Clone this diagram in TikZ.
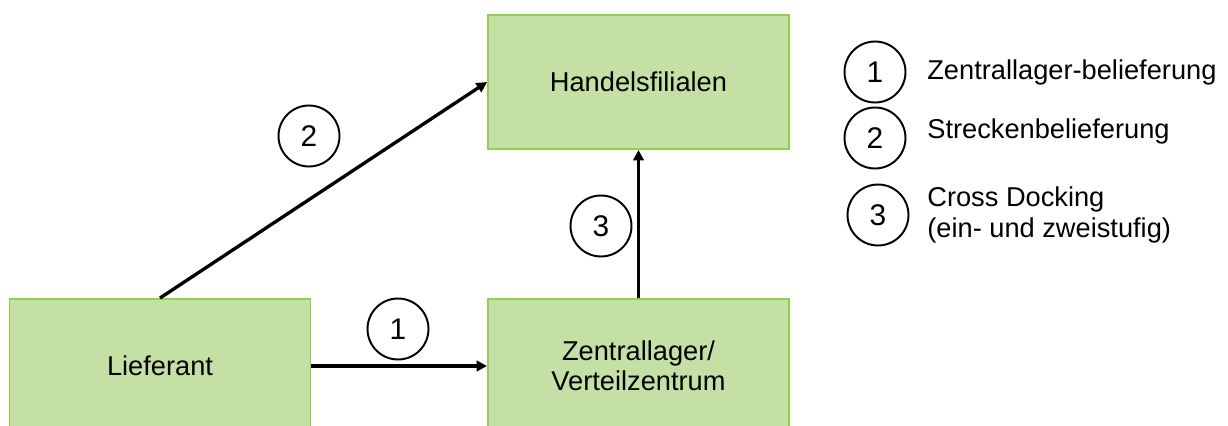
\documentclass[tikz,border=0pt]{standalone}
\usepackage{fontspec}
\setmainfont{Liberation Sans}
\usetikzlibrary{arrows.meta}
\definecolor{boxfill}{RGB}{197,224,165}
\definecolor{boxline}{RGB}{146,208,80}
\begin{document}
\begin{tikzpicture}[x=0.02cm,y=-0.02cm,
  every node/.style={font=\fontsize{15.3}{18}\selectfont},
  box/.style={draw=boxline,fill=boxfill,line width=1.1pt,minimum width=6.02cm,minimum height=2.68cm,inner sep=0pt,align=center,font=\fontsize{15.5}{17.2}\selectfont},
  num/.style={circle,draw=black,line width=1.1pt,minimum size=1.22cm,inner sep=0pt,font=\fontsize{17}{18}\selectfont},
  flow/.style={line width=1.9pt,-{Triangle[length=6pt,width=6pt]}},
  legend/.style={anchor=west,align=left,inner sep=0pt,font=\fontsize{15.5}{17.2}\selectfont}]
\useasboundingbox (0,0) rectangle (1228,426);
\clip (0,0) rectangle (1228,426);
\node[box] (H) at (638.5,82) {Handelsfilialen};
\node[box] (L) at (160,366) {Lieferant};
\node[box] (Z) at (638.5,366) {Zentrallager/\\Verteilzentrum};
\draw[flow] (L.east) -- (Z.west);
\draw[flow] (L.north) -- (H.west);
\draw[flow] (Z.north) -- (H.south);
\node[num] (c1) at (398,329) {1};
\node[num] (c2) at (309,136) {2};
\node[num] (c3) at (601,226) {3};
\node[num] (k1) at (875,72) {1};
\node[num] (k2) at (875,138) {2};
\node[num] (k3) at (878,215) {3};
\node[legend] (t1) at (927,72) {Zentrallager-belieferung};
\node[legend] (t2) at (927,131) {Streckenbelieferung};
\node[legend] (t3) at (927,215) {Cross Docking\\(ein- und zweistufig)};
\end{tikzpicture}
\end{document}
